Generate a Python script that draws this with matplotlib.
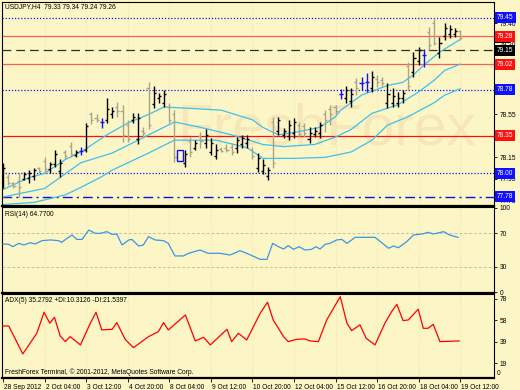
import matplotlib
matplotlib.use('Agg')
import matplotlib.pyplot as plt
from matplotlib.patches import Rectangle
import matplotlib.transforms as mtrans

plt.rcParams['font.family'] = ['Liberation Sans', 'DejaVu Sans']

# ---------------- data ----------------
date_labels = ['28 Sep 2012', '2 Oct 04:00', '3 Oct 12:00', '4 Oct 20:00', '8 Oct 04:00',
               '9 Oct 12:00', '10 Oct 20:00', '12 Oct 04:00', '15 Oct 12:00', '16 Oct 20:00',
               '18 Oct 04:00', '19 Oct 12:00']
date_bars = [0, 8, 16, 24, 32, 40, 48, 56, 64, 72, 80, 88]

opens = [77.90,77.97,77.91,77.93,77.95,77.96,77.98,78.05,78.12,78.04,
         78.09,78.02,78.20,78.26,78.17,78.21,78.22,78.55,78.52,78.48,
         78.50,78.55,78.62,78.58,78.45,78.50,78.32,78.40,78.80,78.65,
         78.70,78.66,78.62,78.55,78.22,78.10,78.30,78.24,78.35,78.28,
         78.20,78.16,78.23,78.24,78.25,78.24,78.27,78.28,78.22,78.05,
         78.02,77.98,78.48,78.40,78.36,78.35,78.38,78.45,78.44,78.32,
         78.37,78.38,78.55,78.60,78.62,78.74,78.70,78.68,78.85,78.84,
         78.85,78.80,78.88,78.87,78.66,78.66,78.66,78.70,79.00,78.95,
         79.05,79.10,79.32,79.40,79.12,79.28,79.30,79.30,79.33]
highs = [78.10,77.99,77.92,78.00,78.01,78.03,78.05,78.06,78.15,78.11,
         78.22,78.13,78.22,78.29,78.22,78.25,78.47,78.57,78.55,78.52,
         78.70,78.62,78.67,78.64,78.50,78.56,78.56,78.43,78.85,78.82,
         78.75,78.78,78.66,78.59,78.23,78.22,78.34,78.31,78.39,78.41,
         78.33,78.27,78.25,78.27,78.28,78.34,78.36,78.36,78.25,78.19,
         78.13,78.06,78.53,78.53,78.42,78.50,78.52,78.48,78.47,78.43,
         78.43,78.48,78.59,78.64,78.64,78.79,78.82,78.80,78.89,78.90,
         78.94,78.96,78.92,78.90,78.84,78.80,78.76,78.78,79.04,79.13,
         79.18,79.16,79.37,79.45,79.27,79.40,79.38,79.36,79.34]
lows = [77.86,77.89,77.86,77.78,77.94,77.91,77.94,78.00,78.00,78.00,
        78.06,77.97,78.13,78.15,78.15,78.17,78.20,78.46,78.48,78.42,
        78.47,78.52,78.53,78.29,78.29,78.47,78.27,78.34,78.41,78.61,
        78.66,78.62,78.47,78.11,78.11,78.06,78.15,78.22,78.24,78.24,
        78.17,78.13,78.20,78.20,78.17,78.19,78.24,78.24,78.13,78.01,
        77.99,77.94,78.05,78.36,78.33,78.31,78.33,78.34,78.34,78.28,
        78.34,78.33,78.39,78.45,78.55,78.69,78.66,78.62,78.73,78.78,
        78.76,78.76,78.81,78.82,78.61,78.62,78.62,78.66,78.78,78.90,
        79.01,78.99,79.15,79.20,79.08,79.24,79.26,79.27,79.24]
closes = [78.05,77.91,77.88,77.87,77.99,78.00,78.03,78.02,78.04,78.09,
          78.18,78.10,78.16,78.18,78.20,78.21,78.44,78.50,78.50,78.48,
          78.60,78.58,78.58,78.36,78.32,78.53,78.52,78.38,78.45,78.75,
          78.72,78.74,78.50,78.15,78.12,78.18,78.20,78.28,78.30,78.36,
          78.28,78.22,78.21,78.22,78.20,78.31,78.33,78.32,78.16,78.14,
          78.08,78.03,78.10,78.50,78.40,78.45,78.48,78.37,78.38,78.38,
          78.40,78.45,78.50,78.55,78.58,78.74,78.78,78.74,78.80,78.84,
          78.85,78.90,78.85,78.84,78.74,78.72,78.70,78.75,78.82,79.08,
          79.15,79.10,79.20,79.22,79.22,79.36,79.35,79.33,79.26]
bar_kind = ("BGGGBBBGGB" "BBGGBUBGGU" "BBGGGBBGGB" "BBGGCBGBGB" "BBGGGBBBGB"
            "BBGBBBBGGB" "BBGGGUBBGU" "UBGGBBBBGB" "BUGGBBBBG")

band_up_x = [0, 5, 8, 12, 15, 20, 24, 28, 31, 42, 48, 50, 53, 57, 61, 64, 65, 69, 74, 77, 79, 81, 84, 88]
band_up_y = [77.85, 77.96, 78.00, 78.13, 78.20, 78.36, 78.47, 78.55, 78.62, 78.59, 78.50, 78.43,
             78.36, 78.39, 78.43, 78.53, 78.59, 78.73, 78.82, 78.85, 78.92, 79.01, 79.13, 79.25]
band_mid_x = [0, 8, 15, 21, 26, 33, 38, 44, 50, 54, 60, 64, 67, 71, 76, 80, 83, 85, 88]
band_mid_y = [77.78, 77.86, 78.10, 78.19, 78.31, 78.48, 78.43, 78.36, 78.27, 78.25, 78.27, 78.34,
              78.41, 78.56, 78.64, 78.76, 78.87, 78.96, 79.02]
band_lo_x = [0, 6, 12, 15, 19, 21, 28, 33, 41, 47, 50, 56, 62, 67, 71, 74, 78, 83, 85, 88]
band_lo_y = [77.71, 77.73, 77.80, 77.87, 77.97, 78.03, 78.19, 78.31, 78.31, 78.24, 78.14, 78.14,
             78.15, 78.20, 78.31, 78.45, 78.53, 78.66, 78.73, 78.79]

level_prices = [79.45, 79.28, 79.15, 79.02, 78.78, 78.35, 78.00, 77.78]
level_kinds = ['blue_dot', 'salmon', 'black_dash', 'salmon', 'blue_dot', 'red', 'blue_dot', 'blue_dashdot']
price_ticks = [79.40, 79.20, 78.55, 78.15, 77.95, 77.75]
last_price = 79.26

rsi_x = [0, 1.1, 1.9, 3, 4, 5.25, 6.2, 7.5, 9.1, 10.7, 11.3, 12.3, 13.3, 14.2, 15.2, 16.5, 17.75,
         18.7, 20, 21, 21.9, 22.9, 24.2, 24.8, 26.1, 27, 28, 29.3, 30.9, 31.8, 33.1, 34.7, 35.7,
         37.9, 39.5, 41.8, 43.7, 45.6, 47.2, 49.5, 50.8, 51.9, 53, 54, 54.9, 55.9, 57, 58.1,
         59.4, 60.2, 61, 62, 62.9, 64.2, 65.2, 66.2, 67.8, 71.6, 72.9, 74.2, 75.1, 76.1, 77.7,
         79, 80.6, 81.9, 82.8, 84.8, 86, 87.6]
rsi_v = [57.1, 56.7, 53.9, 57.8, 55.9, 58.6, 57.1, 61.0, 61.8, 61.0, 59.0, 63.7, 67.6, 62.5, 62.5,
         73.5, 69.6, 69.6, 71.6, 68.4, 68.8, 55.9, 61.8, 62.5, 54.7, 55.9, 65.7, 61.8, 61.0, 57.8,
         43.0, 43.0, 46.1, 50.0, 46.1, 46.1, 44.1, 49.2, 45.3, 39.0, 39.0, 57.8, 53.9, 51.2, 55.1,
         50.8, 53.9, 50.0, 50.8, 53.9, 51.2, 56.7, 57.8, 61.8, 62.5, 57.8, 64.9, 64.9, 58.6, 52.0,
         54.7, 52.7, 59.8, 67.6, 68.8, 70.8, 68.8, 71.6, 67.6, 64.8]

adx_x = [0, 1.1, 3.8, 6.5, 7.9, 9, 9.9, 11, 12, 12.9, 14.9, 16.8, 17.9, 19, 21, 21.9, 23.5, 25.1,
         28, 29.9, 30.9, 31.8, 35.1, 37, 38.6, 39.9, 43.1, 44, 45.3, 46.9, 49.5, 50.9, 52, 54,
         54.9, 56.5, 58.1, 59.1, 60.7, 62.3, 64.9, 66.2, 67.1, 68.7, 69.9, 71.6, 73.5, 74.8, 75.8,
         77, 78, 79.9, 80.9, 81.8, 82.8, 84.1, 87.8]
adx_v = [53.4, 53.4, 28.0, 46.8, 65.9, 55.9, 61.3, 44.3, 39.2, 43.7, 36.2, 55.9, 65.9, 49.8, 50.4,
         56.5, 41.3, 33.7, 43.7, 48.3, 56.5, 49.8, 63.4, 39.8, 43.1, 36.2, 50.4, 39.2, 46.8, 40.7,
         65.0, 75.0, 58.9, 43.7, 39.2, 41.3, 41.6, 39.8, 39.2, 58.9, 80.1, 55.9, 49.2, 54.4, 42.2,
         36.2, 55.9, 66.5, 73.1, 58.3, 58.9, 68.6, 51.3, 51.3, 54.9, 39.2, 39.8]

# ---------------- style ----------------
BG = '#FCF6C6'
W, H = 520, 390
fig = plt.figure(figsize=(5.2, 3.9), dpi=100, facecolor=BG)

def rect(top_px, bot_px):
    return [2 / W, 1 - bot_px / H, (494 - 2) / W, (bot_px - top_px) / H]

ax = fig.add_axes(rect(2, 206))
axr = fig.add_axes(rect(207, 293))
axa = fig.add_axes(rect(294, 378))

XMIN, XMAX = -0.2, 94.5
FS = 4.8
for a in (ax, axr, axa):
    a.set_facecolor(BG)
    a.set_xlim(XMIN, XMAX)
    a.yaxis.tick_right()
    a.tick_params(axis='y', labelsize=FS, length=2, width=0.6, pad=2, colors='black')
    for s in a.spines.values():
        s.set_color('black')
        s.set_linewidth(0.8)
    a.spines['bottom'].set_linewidth(1.6)
    for xb in date_bars[1:]:
        a.axvline(xb, color='#E8DFB4', lw=0.5, ls=(0, (2, 2)), zorder=0.6)

ax.set_xticks([])
axr.set_xticks([])

# watermark
ax.text(33.5, 78.27, 'FreshForex', fontsize=42, color='#F5DCB0', alpha=0.6,
        ha='left', va='baseline', zorder=0.7)

# --- main price panel ---
ax.set_ylim(77.696, 79.599)
ax.set_yticks(price_ticks)
ax.set_yticklabels([f'{p:.2f}' for p in price_ticks])

style_map = {
    'blue_dot': dict(color='#1010FF', lw=0.9, ls=(0, (1, 1.5))),
    'salmon': dict(color='#F86050', lw=0.9, ls='-'),
    'red': dict(color='#FF1010', lw=0.9, ls='-'),
    'black_dash': dict(color='#303020', lw=0.9, ls=(0, (7, 4))),
    'blue_dashdot': dict(color='#1010E0', lw=1.0, ls=(0, (7, 3, 1.5, 3))),
}
tag_color = {'blue_dot': '#1010FF', 'salmon': '#FF1010', 'red': '#FF1010',
             'black_dash': '#000000', 'blue_dashdot': '#1010FF'}
for p, k in zip(level_prices, level_kinds):
    ax.axhline(p, zorder=1, **style_map[k])

for bx, by in ((band_up_x, band_up_y), (band_mid_x, band_mid_y), (band_lo_x, band_lo_y)):
    ax.plot(bx, by, color='#3CC0F0', lw=0.9, zorder=2)

col_map = {'B': '#000000', 'G': '#A8A48A', 'U': '#1010FF', 'C': '#000000'}
TK = 0.4
for i, (o, h, l, c, k) in enumerate(zip(opens, highs, lows, closes, bar_kind)):
    if k == 'C':
        ax.add_patch(Rectangle((i - 0.6, min(o, c)), 1.2, abs(o - c), fill=False,
                               ec='#1010FF', lw=1.0, zorder=3))
        continue
    col = col_map[k]
    ax.plot([i, i], [l, h], color=col, lw=1.0, solid_capstyle='butt', zorder=3)
    ax.plot([i - TK, i], [o, o], color=col, lw=1.0, solid_capstyle='butt', zorder=3)
    ax.plot([i, i + TK], [c, c], color=col, lw=1.0, solid_capstyle='butt', zorder=3)

trans = mtrans.blended_transform_factory(ax.transAxes, ax.transData)
# current-price marker (mostly hidden behind the 79.28 tag, as in the terminal)
ax.add_patch(Rectangle((1.0, last_price - 0.045), 0.032, 0.05, transform=trans,
                       fc='black', ec='none', clip_on=False, zorder=4))
for p, k in zip(level_prices, level_kinds):
    ax.text(1.006, p, f'{p:.2f}', transform=trans, fontsize=FS, color='white', ha='left',
            va='center', clip_on=False, zorder=6,
            bbox=dict(boxstyle='square,pad=0.3', fc=tag_color[k], ec='none'))

fig.text(5 / W, 1 - 7 / H, 'USDJPY,H4  79.33 79.34 79.24 79.26', fontsize=FS, va='center', ha='left')

# --- RSI panel ---
axr.set_ylim(-0.6, 100.6)
axr.set_yticks([100, 70, 30, 0])
axr.set_yticklabels(['100', '70', '30', '0'])
for lv in (70, 30):
    axr.axhline(lv, color='#C8C0A0', lw=0.7, ls=(0, (3, 2)), zorder=1)
axr.plot(rsi_x, rsi_v, color='#3A96E6', lw=0.9, zorder=3)
fig.text(5 / W, 1 - 214 / H, 'RSI(14) 64.7700', fontsize=FS, va='center', ha='left')

# --- ADX panel ---
axa.set_ylim(6.1, 82.5)
axa.set_yticks([78, 58.5, 39, 19.5])
axa.set_yticklabels(['78', '58', '39', '19'])
axa.text(1.006, 0.05, '0', transform=axa.transAxes, fontsize=FS, ha='left', va='center', clip_on=False)
axa.plot(adx_x, adx_v, color='#FF0000', lw=0.9, zorder=3)
fig.text(5 / W, 1 - 300 / H, 'ADX(5) 35.2792 +DI:10.3126 -DI:21.5397', fontsize=FS, va='center', ha='left')
fig.text(5 / W, 1 - 372 / H, 'FreshForex Terminal, \u00a9 2001-2012, MetaQuotes Software Corp.',
         fontsize=FS, va='center', ha='left')

axa.set_xticks(date_bars)
axa.set_xticklabels(date_labels, ha='left')
axa.tick_params(axis='x', labelsize=FS, length=3, width=0.6, pad=1)
offset = mtrans.ScaledTranslation(1 / 100, 0, fig.dpi_scale_trans)
for lab in axa.get_xticklabels():
    lab.set_transform(lab.get_transform() + offset)

fig.savefig('out.png', dpi=100, facecolor=BG)
